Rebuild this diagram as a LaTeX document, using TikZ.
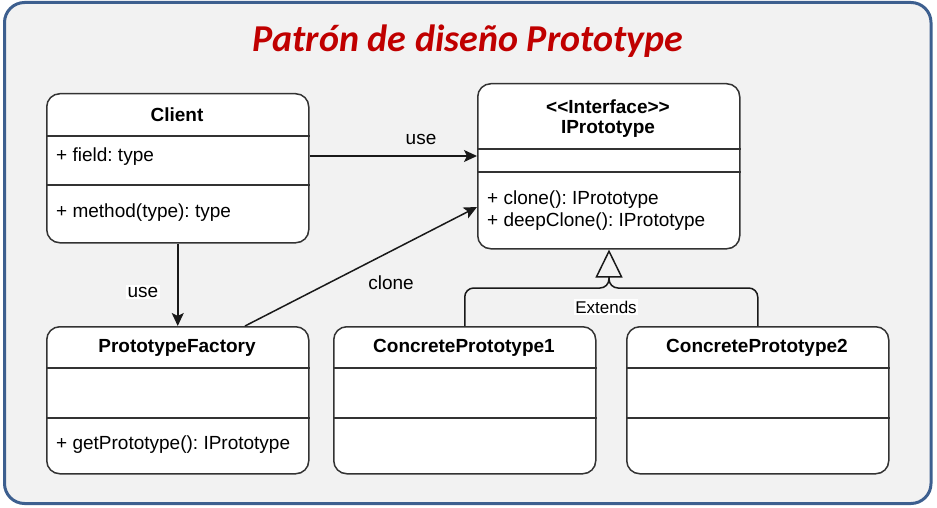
\documentclass[tikz,border=0pt]{standalone}
\usepackage{fontspec}
\setmainfont{Liberation Sans}
\newfontfamily\titlefont{Carlito}
\usetikzlibrary{arrows.meta}
\definecolor{frameblue}{HTML}{3D5F8F}
\definecolor{bggray}{HTML}{F2F2F2}
\definecolor{titlered}{HTML}{C00000}
\definecolor{boxline}{HTML}{333333}
\frenchspacing
\begin{document}
\begin{tikzpicture}[x=1pt,y=-1pt,
  umlbox/.style={draw=boxline, line width=1.5pt, fill=white, rounded corners=13pt,
    inner sep=0pt, anchor=north west},
  divider/.style={draw=boxline, line width=1.5pt},
  txt/.style={font=\fontsize{19}{22}\selectfont, inner sep=0pt, text=black},
  btxt/.style={txt, font=\fontsize{19}{22}\selectfont\bfseries},
  lbl/.style={txt, fill=white, inner sep=1.5pt},
  conn/.style={draw=black!90, line width=1.5pt},
  arr/.style={conn, -{Stealth[length=13pt, width=12pt, inset=3pt]}}
]
\useasboundingbox (0,0) rectangle (937,508);
\draw[line width=3pt, draw=frameblue, fill=bggray, rounded corners=20pt] (4.5,2.5) rectangle (931,503.5);

\node[font=\titlefont\fontsize{38}{44}\selectfont\bfseries\itshape, text=titlered, inner sep=0pt, anchor=base] (title) at (468,52) {Patrón de diseño Prototype};

% Client
\node[umlbox, minimum width=262pt, minimum height=149pt] (client) at (46,93) {};
\draw[divider] (client.west |- 0,136) -- (client.east |- 0,136);
\draw[divider] (client.west |- 0,185) -- (client.east |- 0,185);
\node[btxt] (clientname) at (177,115) {Client};
\node[txt, anchor=west] (clientfield) at (56,157) {+ field: type};
\node[txt, anchor=west] (clientmethod) at (56,213) {+ method(type): type};

% IPrototype
\node[umlbox, minimum width=262pt, minimum height=165pt] (iproto) at (477,83) {};
\draw[divider] (iproto.west |- 0,149) -- (iproto.east |- 0,149);
\draw[divider] (iproto.west |- 0,172) -- (iproto.east |- 0,172);
\node[btxt] (ifacestereo) at (608,107) {<{}<Interface>{}>};
\node[btxt] (ifacename) at (608,129) {IPrototype};
\node[txt, anchor=west] (iclone) at (487,200) {+ clone(): IPrototype};
\node[txt, anchor=west] (ideep) at (487,222) {+ deepClone(): IPrototype};

% PrototypeFactory
\node[umlbox, minimum width=262pt, minimum height=147pt] (factory) at (46,326) {};
\draw[divider] (factory.west |- 0,368) -- (factory.east |- 0,368);
\draw[divider] (factory.west |- 0,418) -- (factory.east |- 0,418);
\node[btxt] (factoryname) at (177,348) {PrototypeFactory};
\node[txt, anchor=west] (factoryget) at (56,445) {+ getPrototype(): IPrototype};

% ConcretePrototype1
\node[umlbox, minimum width=262pt, minimum height=147pt] (cp1) at (333,326) {};
\draw[divider] (cp1.west |- 0,368) -- (cp1.east |- 0,368);
\draw[divider] (cp1.west |- 0,418) -- (cp1.east |- 0,418);
\node[btxt] (cp1name) at (464,348) {ConcretePrototype1};

% ConcretePrototype2
\node[umlbox, minimum width=262pt, minimum height=147pt] (cp2) at (626,326) {};
\draw[divider] (cp2.west |- 0,368) -- (cp2.east |- 0,368);
\draw[divider] (cp2.west |- 0,418) -- (cp2.east |- 0,418);
\node[btxt] (cp2name) at (757,348) {ConcretePrototype2};

% Connectors
\draw[arr] (client.east |- 0,156) -- (iproto.west |- 0,156);
\node[txt] (use1) at (421,139) {use};

\draw[arr] (client.south) -- (factory.north);
\node[lbl] (use2) at (143,292) {use};

\draw[arr] (factory.north -| 245,0) -- (iproto.west |- 0,207);
\node[txt] (clonelbl) at (391,283) {clone};

\coordinate (junction) at (609,288);
\coordinate (stemtop) at (609,276);
\draw[conn, rounded corners=9pt] (cp1.north) |- (junction) -- (stemtop);
\draw[conn, rounded corners=9pt] (cp2.north) |- (junction) -- (stemtop);
\draw[conn, -{Triangle[open, length=28pt, width=27pt, line width=1.5pt]}] (stemtop) -- (iproto.south -| stemtop);
\node[lbl, font=\fontsize{17}{20}\selectfont] (extends) at (606,307) {Extends};
\end{tikzpicture}
\end{document}
